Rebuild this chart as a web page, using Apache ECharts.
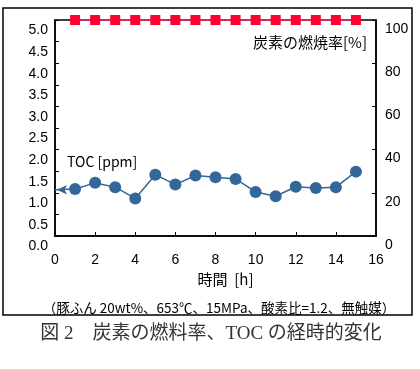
<!DOCTYPE html>
<html><head><meta charset="utf-8">
<script src="https://cdn.jsdelivr.net/npm/echarts@6/dist/echarts.min.js"></script>
<style>html,body{margin:0;padding:0;background:#fff}#c{width:420px;height:369px}</style>
</head><body><div id="c"></div>
<script>
var burnTimes = [1,2,3,4,5,6,7,8,9,10,11,12,13,14,15];
var burnRate = [100,100,100,100,100,100,100,100,100,100,100,100,100,100,100];
var tocTimes = [0,1,2,3,4,5,6,7,8,9,10,11,12,13,14,15];
var tocValues = [1.07,1.09,1.23,1.13,0.87,1.42,1.19,1.40,1.36,1.32,1.02,0.92,1.14,1.11,1.13,1.49];
var xTicks = {min:0,max:16,interval:2};
var leftTicks = {min:0,max:5,interval:0.5};
var rightTicks = {min:0,max:100,interval:20};

var chart = echarts.init(document.getElementById('c'));
var numFont = 'Liberation Sans, Arial, sans-serif';
var jpFont = '"Noto Sans CJK JP", sans-serif';
var blue = '#336699', red = '#FF0033';

var tocData = tocTimes.map(function(t,i){
  var d = {value:[t,tocValues[i]]};
  if(i===0){ d.symbol='arrow'; d.symbolSize=[7,10]; d.symbolRotate=90; d.symbolOffset=[2,0]; }
  return d;
});

chart.setOption({
  animation:false,
  grid:{left:55,right:44,top:20,bottom:133,show:true,borderColor:'#000',borderWidth:1.5,backgroundColor:'transparent'},
  xAxis:{type:'value',min:xTicks.min,max:xTicks.max,interval:xTicks.interval,
    axisLine:{show:true,lineStyle:{color:'#000',width:1.5}},
    axisTick:{show:true,inside:true,length:4,lineStyle:{color:'#000'}},
    splitLine:{show:false},
    axisLabel:{color:'#000',fontSize:14,fontFamily:numFont,margin:17,showMinLabel:true,showMaxLabel:true},
    name:'時間  [h]',nameLocation:'middle',nameGap:33,
    nameTextStyle:{color:'#000',fontSize:15,fontFamily:jpFont,padding:[0,0,0,20]}
  },
  yAxis:[
    {type:'value',min:leftTicks.min,max:leftTicks.max,interval:leftTicks.interval,position:'left',
      axisLine:{show:true,lineStyle:{color:'#000',width:1.5}},
      axisTick:{show:true,inside:true,length:4,lineStyle:{color:'#000'}},
      splitLine:{show:false},
      axisLabel:{color:'#000',fontSize:14,fontFamily:numFont,margin:7,verticalAlign:'top',lineHeight:21,
        showMinLabel:true,showMaxLabel:true,hideOverlap:false,
        formatter:function(v){return v.toFixed(1);}}
    },
    {type:'value',min:rightTicks.min,max:rightTicks.max,interval:rightTicks.interval,position:'right',
      axisLine:{show:true,lineStyle:{color:'#000',width:1.5}},
      axisTick:{show:true,inside:true,length:4,lineStyle:{color:'#000'}},
      splitLine:{show:false},
      axisLabel:{color:'#000',fontSize:14,fontFamily:numFont,margin:9,verticalAlign:'top',lineHeight:18,
        showMinLabel:true,showMaxLabel:true,hideOverlap:false}
    }
  ],
  series:[
    {type:'line',yAxisIndex:1,data:burnTimes.map(function(t,i){return [t,burnRate[i]];}),
      symbol:'rect',symbolSize:10,itemStyle:{color:red},lineStyle:{color:'#FF3355',width:1.5},z:5},
    {type:'line',yAxisIndex:0,data:tocData,symbol:'circle',symbolSize:12,
      itemStyle:{color:blue},lineStyle:{color:blue,width:1.5},z:4}
  ],
  graphic:[
    {type:'rect',shape:{x:3,y:8,width:409,height:307},style:{fill:'none',stroke:'#000',lineWidth:1.5},z:-1},
    {type:'text',x:367,y:42,style:{text:'炭素の燃焼率[%]',fill:'#000',font:'15px "Noto Sans CJK JP", sans-serif',align:'right',verticalAlign:'middle'}},
    {type:'text',x:67,y:162,style:{text:'TOC [ppm]',fill:'#000',font:'14px "Noto Sans CJK JP", sans-serif',align:'left',verticalAlign:'middle'}},
    {type:'text',x:219,y:308,style:{text:'（豚ふん 20wt%、653℃、15MPa、酸素比=1.2、無触媒）',fill:'#000',font:'13.5px "Noto Sans CJK JP", sans-serif',align:'center',verticalAlign:'middle'}},
    {type:'text',x:211,y:334,style:{text:'図 2　炭素の燃料率、TOC の経時的変化',fill:'#333',font:'19px "Liberation Serif", "Noto Sans CJK JP", serif',align:'center',verticalAlign:'middle'}}
  ]
});
</script></body></html>
